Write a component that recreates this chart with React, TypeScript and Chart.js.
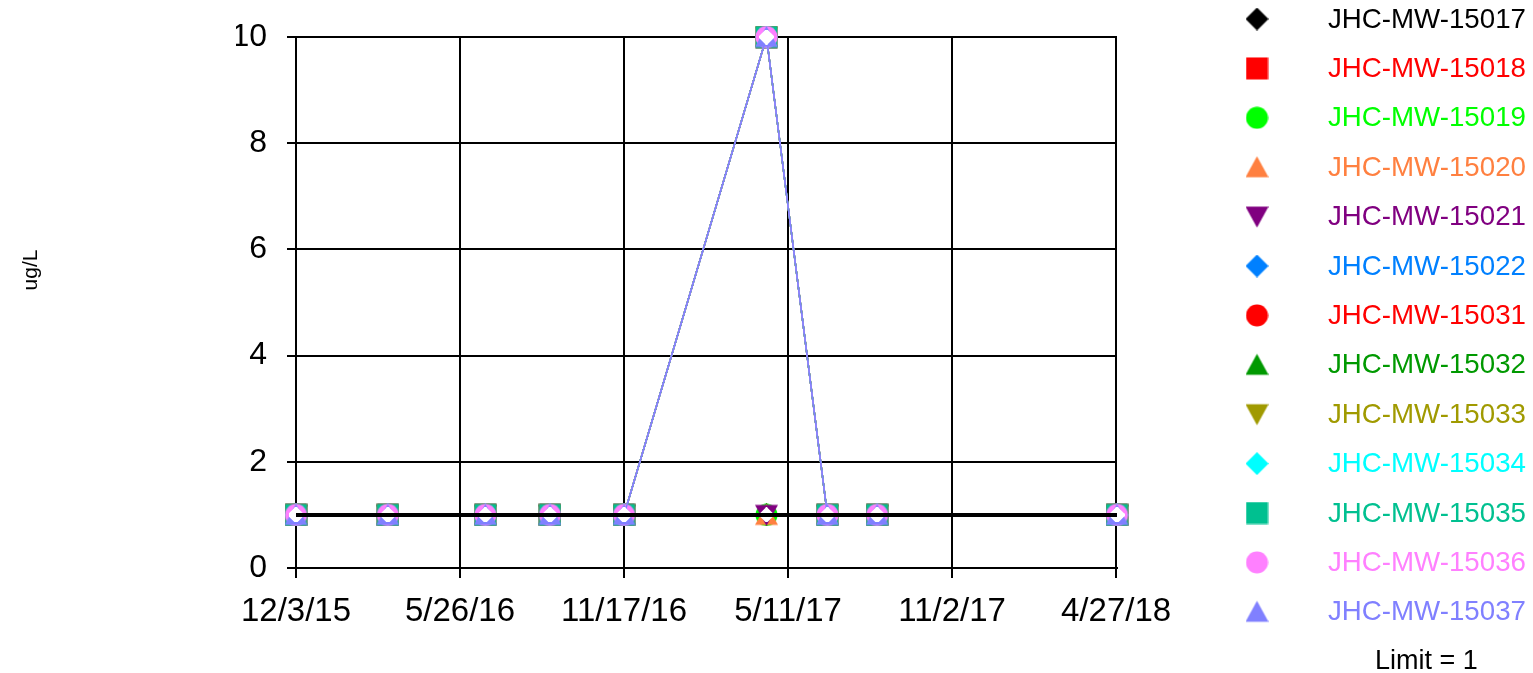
import React, { useEffect, useRef } from "react";
import { Chart, registerables } from "chart.js";

Chart.register(...registerables);

// ---- Data ----
const sampleDates = ["12/3/15", "3/10/16", "6/22/16", "8/30/16", "11/17/16", "4/18/17", "6/22/17", "8/14/17", "4/27/18"];
const xTickLabels = ["12/3/15", "5/26/16", "11/17/16", "5/11/17", "11/2/17", "4/27/18"];
const xTickStepDays = 175;
const yTicks = [0, 2, 4, 6, 8, 10];
const limitValue = 1;

const seriesNames = [
  "JHC-MW-15017", "JHC-MW-15018", "JHC-MW-15019", "JHC-MW-15020", "JHC-MW-15021", "JHC-MW-15022",
  "JHC-MW-15031", "JHC-MW-15032", "JHC-MW-15033", "JHC-MW-15034", "JHC-MW-15035", "JHC-MW-15036", "JHC-MW-15037",
];
const seriesColors = [
  "#000000", "#FF0000", "#00FF00", "#FF8040", "#800080", "#0080FF",
  "#FF0000", "#009900", "#A09A00", "#00FFFF", "#00C090", "#FF80FF", "#8080FF",
];
const seriesMarkers = [
  "diamond", "square", "circle", "triangle", "triangleDown", "diamond",
  "circle", "triangle", "triangleDown", "diamond", "square", "circle", "triangle",
];

const v15017 = [1, 1, 1, 1, 1, 1, 1, 1, 1];
const v15018 = [1, 1, 1, 1, 1, 10, 1, 1, 1];
const v15019 = [1, 1, 1, 1, 1, 1, 1, 1, 1];
const v15020 = [1, 1, 1, 1, 1, 1, 1, 1, 1];
const v15021 = [1, 1, 1, 1, 1, 1, 1, 1, 1];
const v15022 = [1, 1, 1, 1, 1, 10, 1, 1, 1];
const v15031 = [1, 1, 1, 1, 1, 10, 1, 1, 1];
const v15032 = [1, 1, 1, 1, 1, 10, 1, 1, 1];
const v15033 = [1, 1, 1, 1, 1, 10, 1, 1, 1];
const v15034 = [1, 1, 1, 1, 1, 10, 1, 1, 1];
const v15035 = [1, 1, 1, 1, 1, 10, 1, 1, 1];
const v15036 = [1, 1, 1, 1, 1, 10, 1, 1, 1];
const v15037 = [1, 1, 1, 1, 1, 10, 1, 1, 1];
const seriesValues = [v15017, v15018, v15019, v15020, v15021, v15022, v15031, v15032, v15033, v15034, v15035, v15036, v15037];

// ---- helpers ----
function parseDate(s: string): number {
  const [m, d, y] = s.split("/").map(Number);
  return Date.UTC(2000 + y, m - 1, d);
}
const origin = parseDate(xTickLabels[0]);
const toDays = (s: string) => Math.round((parseDate(s) - origin) / 86400000);
const xMax = toDays(xTickLabels[xTickLabels.length - 1]);

const FONT = "Arial, 'Liberation Sans', sans-serif";
const MS = 23; // marker box size

function makeMarker(shape: string, color: string, size: number): HTMLCanvasElement {
  const c = document.createElement("canvas");
  c.width = size;
  c.height = size;
  const ctx = c.getContext("2d")!;
  ctx.fillStyle = color;
  ctx.beginPath();
  const s = size;
  const h = s / 2;
  if (shape === "circle") {
    ctx.arc(h, h, h - 0.5, 0, Math.PI * 2);
  } else if (shape === "square") {
    ctx.rect(0.5, 0.5, s - 1, s - 1);
  } else if (shape === "diamond") {
    ctx.moveTo(h, 0);
    ctx.lineTo(s, h);
    ctx.lineTo(h, s);
    ctx.lineTo(0, h);
    ctx.closePath();
  } else if (shape === "triangle") {
    ctx.moveTo(h, 0.5);
    ctx.lineTo(s, s - 1.5);
    ctx.lineTo(0, s - 1.5);
    ctx.closePath();
  } else if (shape === "triangleDown") {
    ctx.moveTo(0, 1.5);
    ctx.lineTo(s, 1.5);
    ctx.lineTo(h, s - 0.5);
    ctx.closePath();
  }
  ctx.fill();
  return c;
}

export default function App() {
  const ref = useRef<HTMLCanvasElement | null>(null);

  useEffect(() => {
    const canvas = ref.current;
    if (!canvas) return;

    const markerImgs = seriesMarkers.map((m, i) => makeMarker(m, seriesColors[i], MS));
    const hollowImg = makeMarker("diamond", "#FFFFFF", 15);

    const datasets: any[] = seriesNames.map((name, i) => ({
      label: name,
      data: sampleDates.map((d, k) => ({ x: toDays(d), y: seriesValues[i][k] })),
      borderColor: seriesColors[i],
      backgroundColor: seriesColors[i],
      borderWidth: 1.5,
      pointStyle: markerImgs[i],
      pointRadius: MS / 2,
      order: 100 - i,
      showLine: true,
      clip: false,
    }));
    // hollow (non-detect) centres
    const hollow: { x: number; y: number }[] = [];
    seriesValues.forEach((vals) =>
      sampleDates.forEach((d, k) => hollow.push({ x: toDays(d), y: vals[k] }))
    );
    datasets.push({
      label: "_hollow",
      data: hollow,
      showLine: false,
      pointStyle: hollowImg,
      pointRadius: 7,
      order: 1,
      clip: false,
    });
    datasets.push({
      label: "_limit",
      data: [{ x: 0, y: limitValue }, { x: xMax, y: limitValue }],
      showLine: true,
      borderColor: "#000000",
      borderWidth: 4,
      pointRadius: 0,
      order: 0,
    });

    const legendPlugin = {
      id: "customLegend",
      afterDraw(chart: any) {
        const ctx = chart.ctx;
        ctx.save();
        seriesNames.forEach((name, i) => {
          const y = 19 + i * 49.4;
          ctx.drawImage(markerImgs[i], 1257 - MS / 2, y - MS / 2, MS, MS);
          ctx.fillStyle = seriesColors[i];
          ctx.font = `27.7px ${FONT}`;
          ctx.textAlign = "left";
          ctx.textBaseline = "middle";
          ctx.fillText(name, 1328, y + 1);
        });
        ctx.fillStyle = "#000000";
        ctx.font = `27px ${FONT}`;
        ctx.textAlign = "left";
        ctx.textBaseline = "middle";
        ctx.fillText(`Limit = ${limitValue}`, 1375, 662);
        // y axis title
        ctx.translate(31, 270);
        ctx.rotate(-Math.PI / 2);
        ctx.textAlign = "center";
        ctx.font = `21px ${FONT}`;
        ctx.fillText("ug/L", 0, 0);
        ctx.restore();
      },
    };

    const chart = new Chart(canvas, {
      type: "scatter",
      data: { datasets },
      options: {
        responsive: false,
        animation: false,
        devicePixelRatio: 1,
        layout: { padding: { left: 236, right: 416, top: 37, bottom: 0 } },
        plugins: {
          legend: { display: false },
          tooltip: { enabled: false },
        },
        scales: {
          x: {
            type: "linear",
            min: 0,
            max: xMax,
            afterBuildTicks: (scale: any) => {
              scale.ticks = xTickLabels.map((_, i) => ({ value: i * xTickStepDays }));
            },
            afterFit: (scale: any) => {
              scale.height = 105;
            },
            ticks: {
              callback: (_v: any, i: number) => xTickLabels[i],
              font: { family: FONT, size: 33 },
              color: "#000000",
              padding: 14,
              maxRotation: 0,
              autoSkip: false,
            },
            grid: { color: "#000000", lineWidth: 2, tickLength: 10, drawTicks: true },
            border: { color: "#000000", width: 2 },
          },
          y: {
            type: "linear",
            min: yTicks[0],
            max: yTicks[yTicks.length - 1],
            afterBuildTicks: (scale: any) => {
              scale.ticks = yTicks.map((v) => ({ value: v }));
            },
            afterFit: (scale: any) => {
              scale.width = 60;
            },
            ticks: {
              font: { family: FONT, size: 32, lineHeight: 1 },
              color: "#000000",
              padding: 20,
            },
            grid: { color: "#000000", lineWidth: 2, tickLength: 9, drawTicks: true },
            border: { color: "#000000", width: 2 },
          },
        },
      } as any,
      plugins: [legendPlugin],
    });

    return () => chart.destroy();
  }, []);

  return (
    <div style={{ position: "fixed", left: 0, top: 0, width: 1533, height: 673, background: "#fff" }}>
      <canvas ref={ref} width={1533} height={673} style={{ width: 1533, height: 673, display: "block" }} />
    </div>
  );
}
